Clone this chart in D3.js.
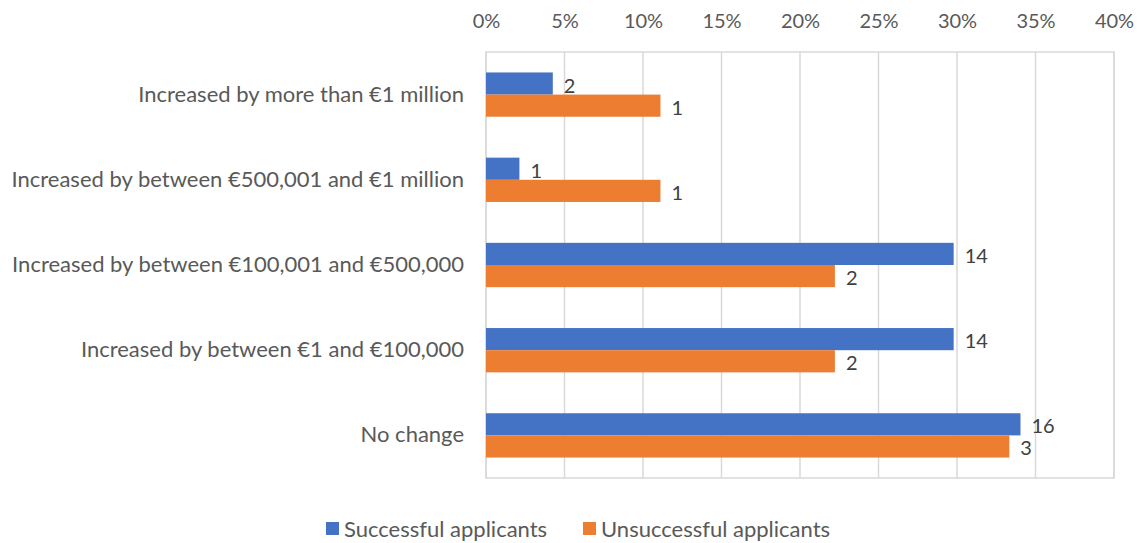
<!DOCTYPE html>
<html>
<head>
<meta charset="utf-8">
<script src="https://cdn.jsdelivr.net/npm/d3@7/dist/d3.min.js"></script>
<style>
  html, body { margin: 0; padding: 0; background: #fff; }
  svg { display: block; font-family: Lato, "Open Sans", sans-serif; }
</style>
</head>
<body>
<svg id="chart" width="1142" height="543"></svg>
<script>
// Change in funding, by applicant outcome (counts; bars show share of each group)
const categories = [
  "Increased by more than €1 million",
  "Increased by between €500,001 and €1 million",
  "Increased by between €100,001 and €500,000",
  "Increased by between €1 and €100,000",
  "No change"
];
const seriesNames = ["Successful applicants", "Unsuccessful applicants"];
const successfulCounts = [2, 1, 14, 14, 16];
const unsuccessfulCounts = [1, 1, 2, 2, 3];
const tickValues = [0, 0.05, 0.10, 0.15, 0.20, 0.25, 0.30, 0.35, 0.40];
const colors = ["#4472C4", "#ED7D31"];

const series = [successfulCounts, unsuccessfulCounts].map((counts, si) => {
  const total = d3.sum(counts);
  return counts.map((c, i) => ({ cat: categories[i], count: c, share: c / total, si }));
});

const svg = d3.select("#chart");
const margin = { left: 486, right: 28, top: 52, bottom: 65 };
const W = 1142, H = 543;

const x = d3.scaleLinear().domain([0, 0.40]).range([margin.left, W - margin.right]);
const y = d3.scaleBand().domain(categories).range([margin.top, H - margin.bottom]).paddingInner(0.48).paddingOuter(0.24);
const ySub = d3.scaleBand().domain([0, 1]).range([0, y.bandwidth()]);

// gridlines
svg.append("g").selectAll("line").data(tickValues).join("line")
  .attr("x1", d => x(d)).attr("x2", d => x(d))
  .attr("y1", margin.top).attr("y2", H - margin.bottom)
  .attr("stroke", "#D9D9D9").attr("stroke-width", 1.5);
// plot frame
svg.append("rect")
  .attr("x", margin.left).attr("y", margin.top)
  .attr("width", x(0.40) - margin.left).attr("height", H - margin.bottom - margin.top)
  .attr("fill", "none").attr("stroke", "#D9D9D9").attr("stroke-width", 1.5);

// top axis
const xAxis = d3.axisTop(x).tickValues(tickValues).tickFormat(d3.format(".0%")).tickSize(0).tickPadding(0);
const gx = svg.append("g").attr("transform", `translate(0,${margin.top - 24})`).call(xAxis);
gx.select(".domain").remove();
gx.selectAll("text").attr("fill", "#595959").attr("font-size", "20px").attr("font-family", "Lato, sans-serif");

// category labels
const yAxis = d3.axisLeft(y).tickSize(0).tickPadding(22);
const gy = svg.append("g").attr("transform", `translate(${margin.left},0)`).call(yAxis);
gy.select(".domain").remove();
gy.selectAll("text").attr("fill", "#595959").attr("font-size", "22px").attr("font-family", "Lato, sans-serif");

// bars
const groups = svg.append("g").selectAll("g").data(series).join("g").attr("fill", (d, i) => colors[i]);
groups.selectAll("rect").data(d => d).join("rect")
  .attr("x", x(0))
  .attr("y", d => y(d.cat) + ySub(d.si))
  .attr("width", d => x(d.share) - x(0))
  .attr("height", ySub.bandwidth());

// value labels (counts)
groups.selectAll("text").data(d => d).join("text")
  .attr("x", d => x(d.share) + 11)
  .attr("y", d => y(d.cat) + ySub(d.si) + ySub.bandwidth() / 2 + 2)
  .attr("dy", "0.35em")
  .attr("fill", "#404040").attr("font-size", "20px")
  .text(d => d.count);

// legend
const legend = svg.append("g").attr("transform", `translate(0,529)`);
const legendX = [326, 583];
seriesNames.forEach((name, i) => {
  legend.append("rect").attr("x", legendX[i]).attr("y", -7).attr("width", 13).attr("height", 13).attr("fill", colors[i]);
  legend.append("text").attr("x", legendX[i] + 18).attr("y", 0).attr("dy", "0.35em")
    .attr("fill", "#595959").attr("font-size", "22px").text(name);
});
</script>
</body>
</html>
